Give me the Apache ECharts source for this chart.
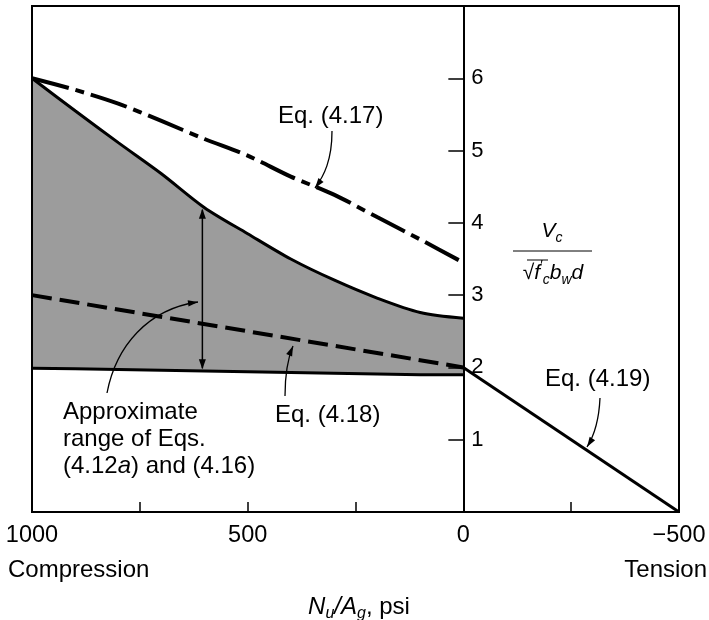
<!DOCTYPE html>
<html><head><meta charset="utf-8">
<script src="https://cdn.jsdelivr.net/npm/echarts@6/dist/echarts.min.js"></script>
<style>html,body{margin:0;padding:0;background:#fff}#c{width:709px;height:620px}</style>
</head><body><div id="c"></div>
<script>
// ---- data ----
const xCompression = [1000, 900, 800, 700, 600, 500, 400, 300, 200, 100, 0];
const upperRange   = [6.00, 5.55, 5.11, 4.68, 4.21, 3.85, 3.50, 3.21, 2.96, 2.76, 2.68];
const lowerRange   = [1.99, 1.98, 1.97, 1.96, 1.95, 1.94, 1.93, 1.92, 1.91, 1.90, 1.90];
const eq417        = [6.00, 5.84, 5.65, 5.41, 5.16, 4.93, 4.64, 4.39, 4.08, 3.77, 3.45];
const xEq418 = [1000, 0];
const eq418  = [3.0, 2.0];
const xEq419 = [0, -500];
const eq419  = [2.0, 0.0];
const xTickLabels = [1000, 500, 0, -500];
const yTickLabels = [1, 2, 3, 4, 5, 6];
const rangeArrowX = 605;
const rangeArrowY = [1.96, 4.21];

(function () {
const F = '"Liberation Sans", Arial, Helvetica, sans-serif';
const chart = echarts.init(document.getElementById('c'), null, {renderer: 'canvas'});
const pair = (xs, ys) => xs.map((x, i) => [x, ys[i]]);
const fmtX = v => xTickLabels.includes(v) ? (v < 0 ? '\u2212' + Math.abs(v) : String(v)) : '';
const GRID = {left: 32, right: 30, top: 6, bottom: 108};

const yAxisOpt = (offset) => ({
  type: 'value', min: 0, max: 7, interval: 1, position: 'right', offset: offset, z: 5,
  axisLine: {show: true, onZero: false, lineStyle: {color: '#000', width: 2}},
  axisTick: {show: true, inside: true, length: 15, lineStyle: {color: '#000', width: 1.5}},
  axisLabel: {formatter: v => yTickLabels.includes(v) ? String(v) : '', margin: 8, color: '#000', fontSize: 22, fontFamily: F},
  splitLine: {show: false}
});

chart.setOption({
  animation: false,
  backgroundColor: '#fff',
  textStyle: {fontFamily: F, color: '#000'},
  grid: Object.assign({show: true, borderColor: '#000', borderWidth: 2, z: 5,
         backgroundColor: 'transparent', containLabel: false, outerBoundsMode: 'none'}, GRID),
  xAxis: {
    type: 'value', min: -500, max: 1000, interval: 250, inverse: true, z: 5,
    axisLine: {onZero: false, lineStyle: {color: '#000', width: 2}},
    axisTick: {inside: true, length: 10, lineStyle: {color: '#000', width: 1.5}},
    axisLabel: {formatter: fmtX, margin: 12, color: '#000', fontSize: 23.5, fontFamily: F},
    splitLine: {show: false}
  },
  yAxis: yAxisOpt(0),
  series: [
    {name: 'upper', type: 'line', data: pair(xCompression, upperRange), symbol: 'none',
     smooth: 0.3, lineStyle: {color: '#000', width: 3},
     areaStyle: {color: '#9c9c9c', opacity: 1, origin: 'start'}, z: 2},
    {name: 'lower', type: 'line', data: pair(xCompression, lowerRange), symbol: 'none',
     lineStyle: {color: '#000', width: 3}, areaStyle: {color: '#fff', opacity: 1, origin: 'start'}, z: 2},
    {name: 'Eq. (4.18)', type: 'line', data: pair(xEq418, eq418), symbol: 'none',
     lineStyle: {color: '#000', width: 4, type: [20, 8]}, z: 3},
    {name: 'Eq. (4.17)', type: 'line', data: pair(xCompression, eq417), symbol: 'none',
     smooth: 0.3,
     lineStyle: {color: '#000', width: 4, type: [38, 7, 9, 7]}, z: 3},
    {name: 'Eq. (4.19)', type: 'line', data: pair(xEq419, eq419), symbol: 'none',
     lineStyle: {color: '#000', width: 3}, z: 3}
  ]
});

// place the vertical (y) axis on x = 0
const px0 = chart.convertToPixel({gridIndex: 0}, [0, 0])[0];
const rightEdge = chart.getWidth() - GRID.right;
chart.setOption({yAxis: yAxisOpt(px0 - rightEdge)});

function arrowHead(tip, from, L, W) {
  const dx = tip[0] - from[0], dy = tip[1] - from[1];
  const d = Math.hypot(dx, dy) || 1, ux = dx / d, uy = dy / d;
  const bx = tip[0] - ux * L, by = tip[1] - uy * L;
  return {type: 'polygon', shape: {points: [tip, [bx - uy * W, by + ux * W], [bx + uy * W, by - ux * W]]},
          style: {fill: '#000'}, z: 10};
}
function leader(p0, c1, c2, p1) {
  return [
    {type: 'bezierCurve', shape: {x1: p0[0], y1: p0[1], cpx1: c1[0], cpy1: c1[1], cpx2: c2[0], cpy2: c2[1], x2: p1[0], y2: p1[1]},
     style: {stroke: '#000', lineWidth: 1.3, fill: null}, z: 10},
    arrowHead(p1, c2, 10, 3.2)
  ];
}
function txt(x, y, text, opts) {
  return Object.assign({type: 'text', x: x, y: y, z: 12,
    style: Object.assign({text: text, fill: '#000', font: '24px ' + F, fontSize: 24, fontFamily: F,
      align: 'left', textAlign: 'left', verticalAlign: 'middle', textVerticalAlign: 'middle'}, opts || {})});
}
const g = [];
const pTop = chart.convertToPixel({gridIndex: 0}, [rangeArrowX, rangeArrowY[1]]);
const pBot = chart.convertToPixel({gridIndex: 0}, [rangeArrowX, rangeArrowY[0]]);
g.push({type: 'line', shape: {x1: pTop[0], y1: pTop[1] + 2, x2: pBot[0], y2: pBot[1] - 2}, style: {stroke: '#000', lineWidth: 1.5}, z: 10});
g.push(arrowHead([pTop[0], pTop[1] + 1], [pTop[0], pTop[1] + 20], 10, 3.5));
g.push(arrowHead([pBot[0], pBot[1] - 1], [pBot[0], pBot[1] - 20], 10, 3.5));

g.push(...leader([332, 131], [332, 160], [324, 176], [315, 188]));
g.push(...leader([285, 396], [285, 375], [288, 358], [293, 346]));
g.push(...leader([107, 393], [116, 346], [148, 309], [198, 302]));
g.push(...leader([600, 398], [599, 420], [594, 436], [587, 447]));

g.push(txt(278, 116, 'Eq. (4.17)'));
g.push(txt(275, 415, 'Eq. (4.18)'));
g.push(txt(545, 379, 'Eq. (4.19)'));
const rich = {
  n: {fontFamily: F, fontSize: 24, lineHeight: 27},
  i: {fontFamily: F, fontSize: 24, fontStyle: 'italic', lineHeight: 27}
};
g.push(txt(63, 439, '{n|Approximate}\n{n|range of Eqs.}\n{n|(4.12}{i|a}{n|) and (4.16)}', {rich: rich}));
g.push(txt(8, 570, 'Compression'));
g.push(txt(707, 570, 'Tension', {align: 'right', textAlign: 'right'}));

const mrich = {
  i: {fontFamily: F, fontSize: 24, fontStyle: 'italic', lineHeight: 30},
  n: {fontFamily: F, fontSize: 24, lineHeight: 30},
  s: {fontFamily: F, fontSize: 16, fontStyle: 'italic', lineHeight: 14, verticalAlign: 'bottom'}
};
g.push(txt(359, 607, '{i|N}{s|u}{i|/A}{s|g}{n|, psi}', {rich: mrich, align: 'center', textAlign: 'center'}));

const yrich = {
  i: {fontFamily: F, fontSize: 21, fontStyle: 'italic', lineHeight: 28},
  n: {fontFamily: F, fontSize: 21, lineHeight: 28},
  s: {fontFamily: F, fontSize: 14, fontStyle: 'italic', lineHeight: 12, verticalAlign: 'bottom'},
  p: {fontFamily: F, fontSize: 14, lineHeight: 12, verticalAlign: 'top'}
};
g.push(txt(552, 231, '{i|V}{s|c}', {rich: yrich, align: 'center', textAlign: 'center'}));
g.push({type: 'line', shape: {x1: 513, y1: 251, x2: 592, y2: 251}, style: {stroke: '#000', lineWidth: 1}, z: 10});
g.push(txt(553, 273, '{n|\u221A}{i|f}{p|\u2032}{s|c}{i|b}{s|w}{i|d}', {rich: yrich, align: 'center', textAlign: 'center'}));
g.push({type: 'line', shape: {x1: 527, y1: 260, x2: 548, y2: 260}, style: {stroke: '#000', lineWidth: 1}, z: 10});

chart.setOption({graphic: g});
})();
</script>
</body></html>
